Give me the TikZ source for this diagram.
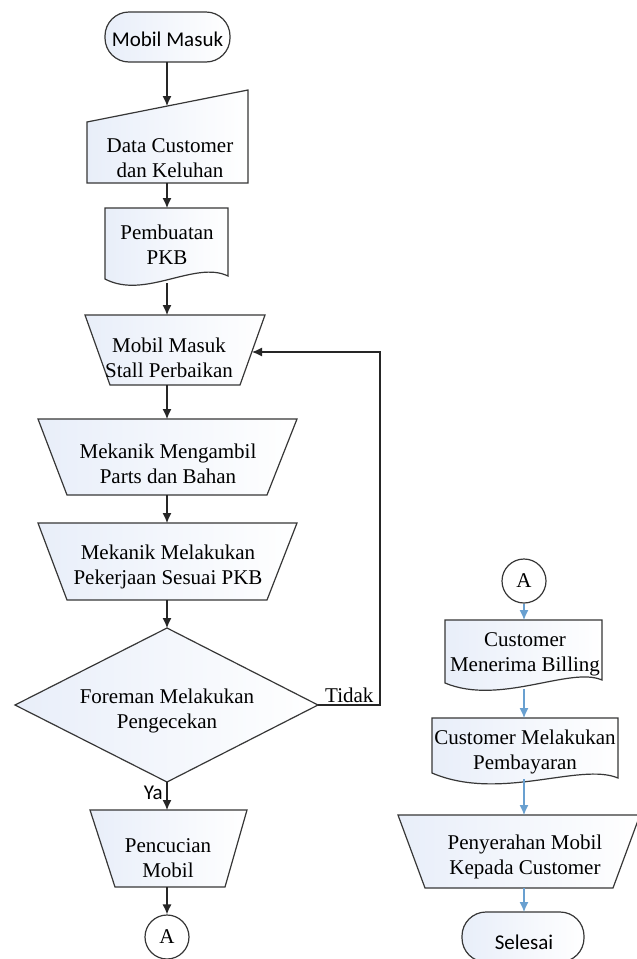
\documentclass[tikz,border=0pt]{standalone}
\usepackage{fontspec}
\setmainfont{Liberation Serif}
\newfontfamily\calib{Carlito}
\usetikzlibrary{arrows.meta}
\definecolor{ln}{RGB}{55,55,55}
\definecolor{fillA}{RGB}{232,238,249}
\definecolor{blu}{RGB}{105,160,208}
\tikzset{
 shp/.style={draw=ln, line width=1.2pt, left color=fillA, right color=white},
 txt/.style={align=center, font=\fontsize{21}{25}\selectfont, inner sep=0pt},
 stxt/.style={font=\calib\fontsize{21}{25}\selectfont, inner sep=0pt},
 conn/.style={draw=ln, line width=1.2pt, circle, fill=white, minimum size=44pt, inner sep=0pt, font=\fontsize{21}{25}\selectfont},
 arr/.style={draw=black!85, line width=1.2pt, -{Latex[length=10pt,width=9pt]}},
 barr/.style={draw=blu, line width=1.2pt, -{Latex[length=10pt,width=9pt]}},
}
\begin{document}
\begin{tikzpicture}[x=1pt,y=-1pt]
\useasboundingbox[fill=white] (0,0) rectangle (637,959);

% ---------- left column ----------
\draw[shp, rounded corners=24pt] (105,12) rectangle (230,62);
\node[stxt] (start) at (167.5,39) {Mobil Masuk};
\coordinate (startb) at (167,62);

\draw[shp] (87,122) -- (248,90) -- (248,183) -- (87,183) -- cycle;
\node[txt] (data) at (170,158) {Data Customer\\dan Keluhan};
\coordinate (datat) at (167,106);
\coordinate (datab) at (167,183);

\draw[shp] (105,208) -- (228,208) -- (228,276) .. controls (195,260) and (145,300) .. (105,279) -- cycle;
\node[txt] (pkb) at (167,245) {Pembuatan\\PKB};
\coordinate (pkbt) at (167,208);
\coordinate (pkbb) at (167,283);

\draw[shp] (85,315) -- (265,315) -- (240,385) -- (110,385) -- cycle;
\node[txt] (stall) at (169,358) {Mobil Masuk\\Stall Perbaikan};
\coordinate (stallt) at (167,315);
\coordinate (stallb) at (167,385);
\coordinate (stallr) at (252,352);

\draw[shp] (38,419) -- (297,419) -- (267,495) -- (67,495) -- cycle;
\node[txt] (ambil) at (168,464) {Mekanik Mengambil\\Parts dan Bahan};
\coordinate (ambilt) at (167,419);
\coordinate (ambilb) at (167,495);

\draw[shp] (38,523) -- (297,523) -- (267,600) -- (67,600) -- cycle;
\node[txt] (kerja) at (168,567) {Mekanik Melakukan\\Pekerjaan Sesuai PKB};
\coordinate (kerjat) at (167,523);
\coordinate (kerjab) at (167,600);

\draw[shp] (167,628) -- (318,705) -- (167,782) -- (15,705) -- cycle;
\node[txt] (cek) at (167,711) {Foreman Melakukan\\Pengecekan};
\coordinate (cekt) at (167,628);
\coordinate (cekb) at (167,782);
\coordinate (cekr) at (318,705);

\draw[shp] (90,810) -- (247,810) -- (225,887) -- (115,887) -- cycle;
\node[txt] (cuci) at (168,858) {Pencucian\\Mobil};
\coordinate (cucit) at (167,810);
\coordinate (cucib) at (167,887);

\node[conn] (a1) at (167,937) {A};

\draw[arr] (startb) -- (datat);
\draw[arr] (datab) -- (pkbt);
\draw[arr] (pkbb) -- (stallt);
\draw[arr] (stallb) -- (ambilt);
\draw[arr] (ambilb) -- (kerjat);
\draw[arr] (kerjab) -- (cekt);
\draw[arr] (cekb) -- (cucit);
\draw[arr] (cucib) -- (a1.north);
\draw[arr] (cekr) -- ++(62,0) |- (stallr);

\node[txt, anchor=base west] (tidak) at (325,702) {Tidak};
\node[stxt, anchor=east] (ya) at (163,793) {Ya};

% ---------- right column ----------
\node[conn] (a2) at (524,581) {A};

\draw[shp] (445,620) -- (602,620) -- (602,680) .. controls (570,666) and (500,706) .. (445,683) -- cycle;
\node[txt] (bill) at (525,654) {Customer\\Menerima Billing};
\coordinate (billt) at (524,620);
\coordinate (billb) at (524,689);

\draw[shp] (432,718) -- (618,718) -- (618,778) .. controls (580,762) and (500,802) .. (432,773) -- cycle;
\node[txt] (bayar) at (525,752) {Customer Melakukan\\Pembayaran};
\coordinate (bayart) at (524,718);
\coordinate (bayarb) at (524,779);

\draw[shp] (398,815) -- (640,815) -- (613,888) -- (425,888) -- cycle;
\node[txt] (serah) at (525,857) {Penyerahan Mobil\\Kepada Customer};
\coordinate (seraht) at (524,815);
\coordinate (serahb) at (524,888);

\draw[shp, rounded corners=24pt] (462,912) rectangle (584,962);
\node[stxt] (selesai) at (524,942) {Selesai};
\coordinate (endt) at (524,912);

\draw[barr] (a2.south) -- (billt);
\draw[barr] (billb) -- (bayart);
\draw[barr] (bayarb) -- (seraht);
\draw[barr] (serahb) -- (endt);
\end{tikzpicture}
\end{document}
